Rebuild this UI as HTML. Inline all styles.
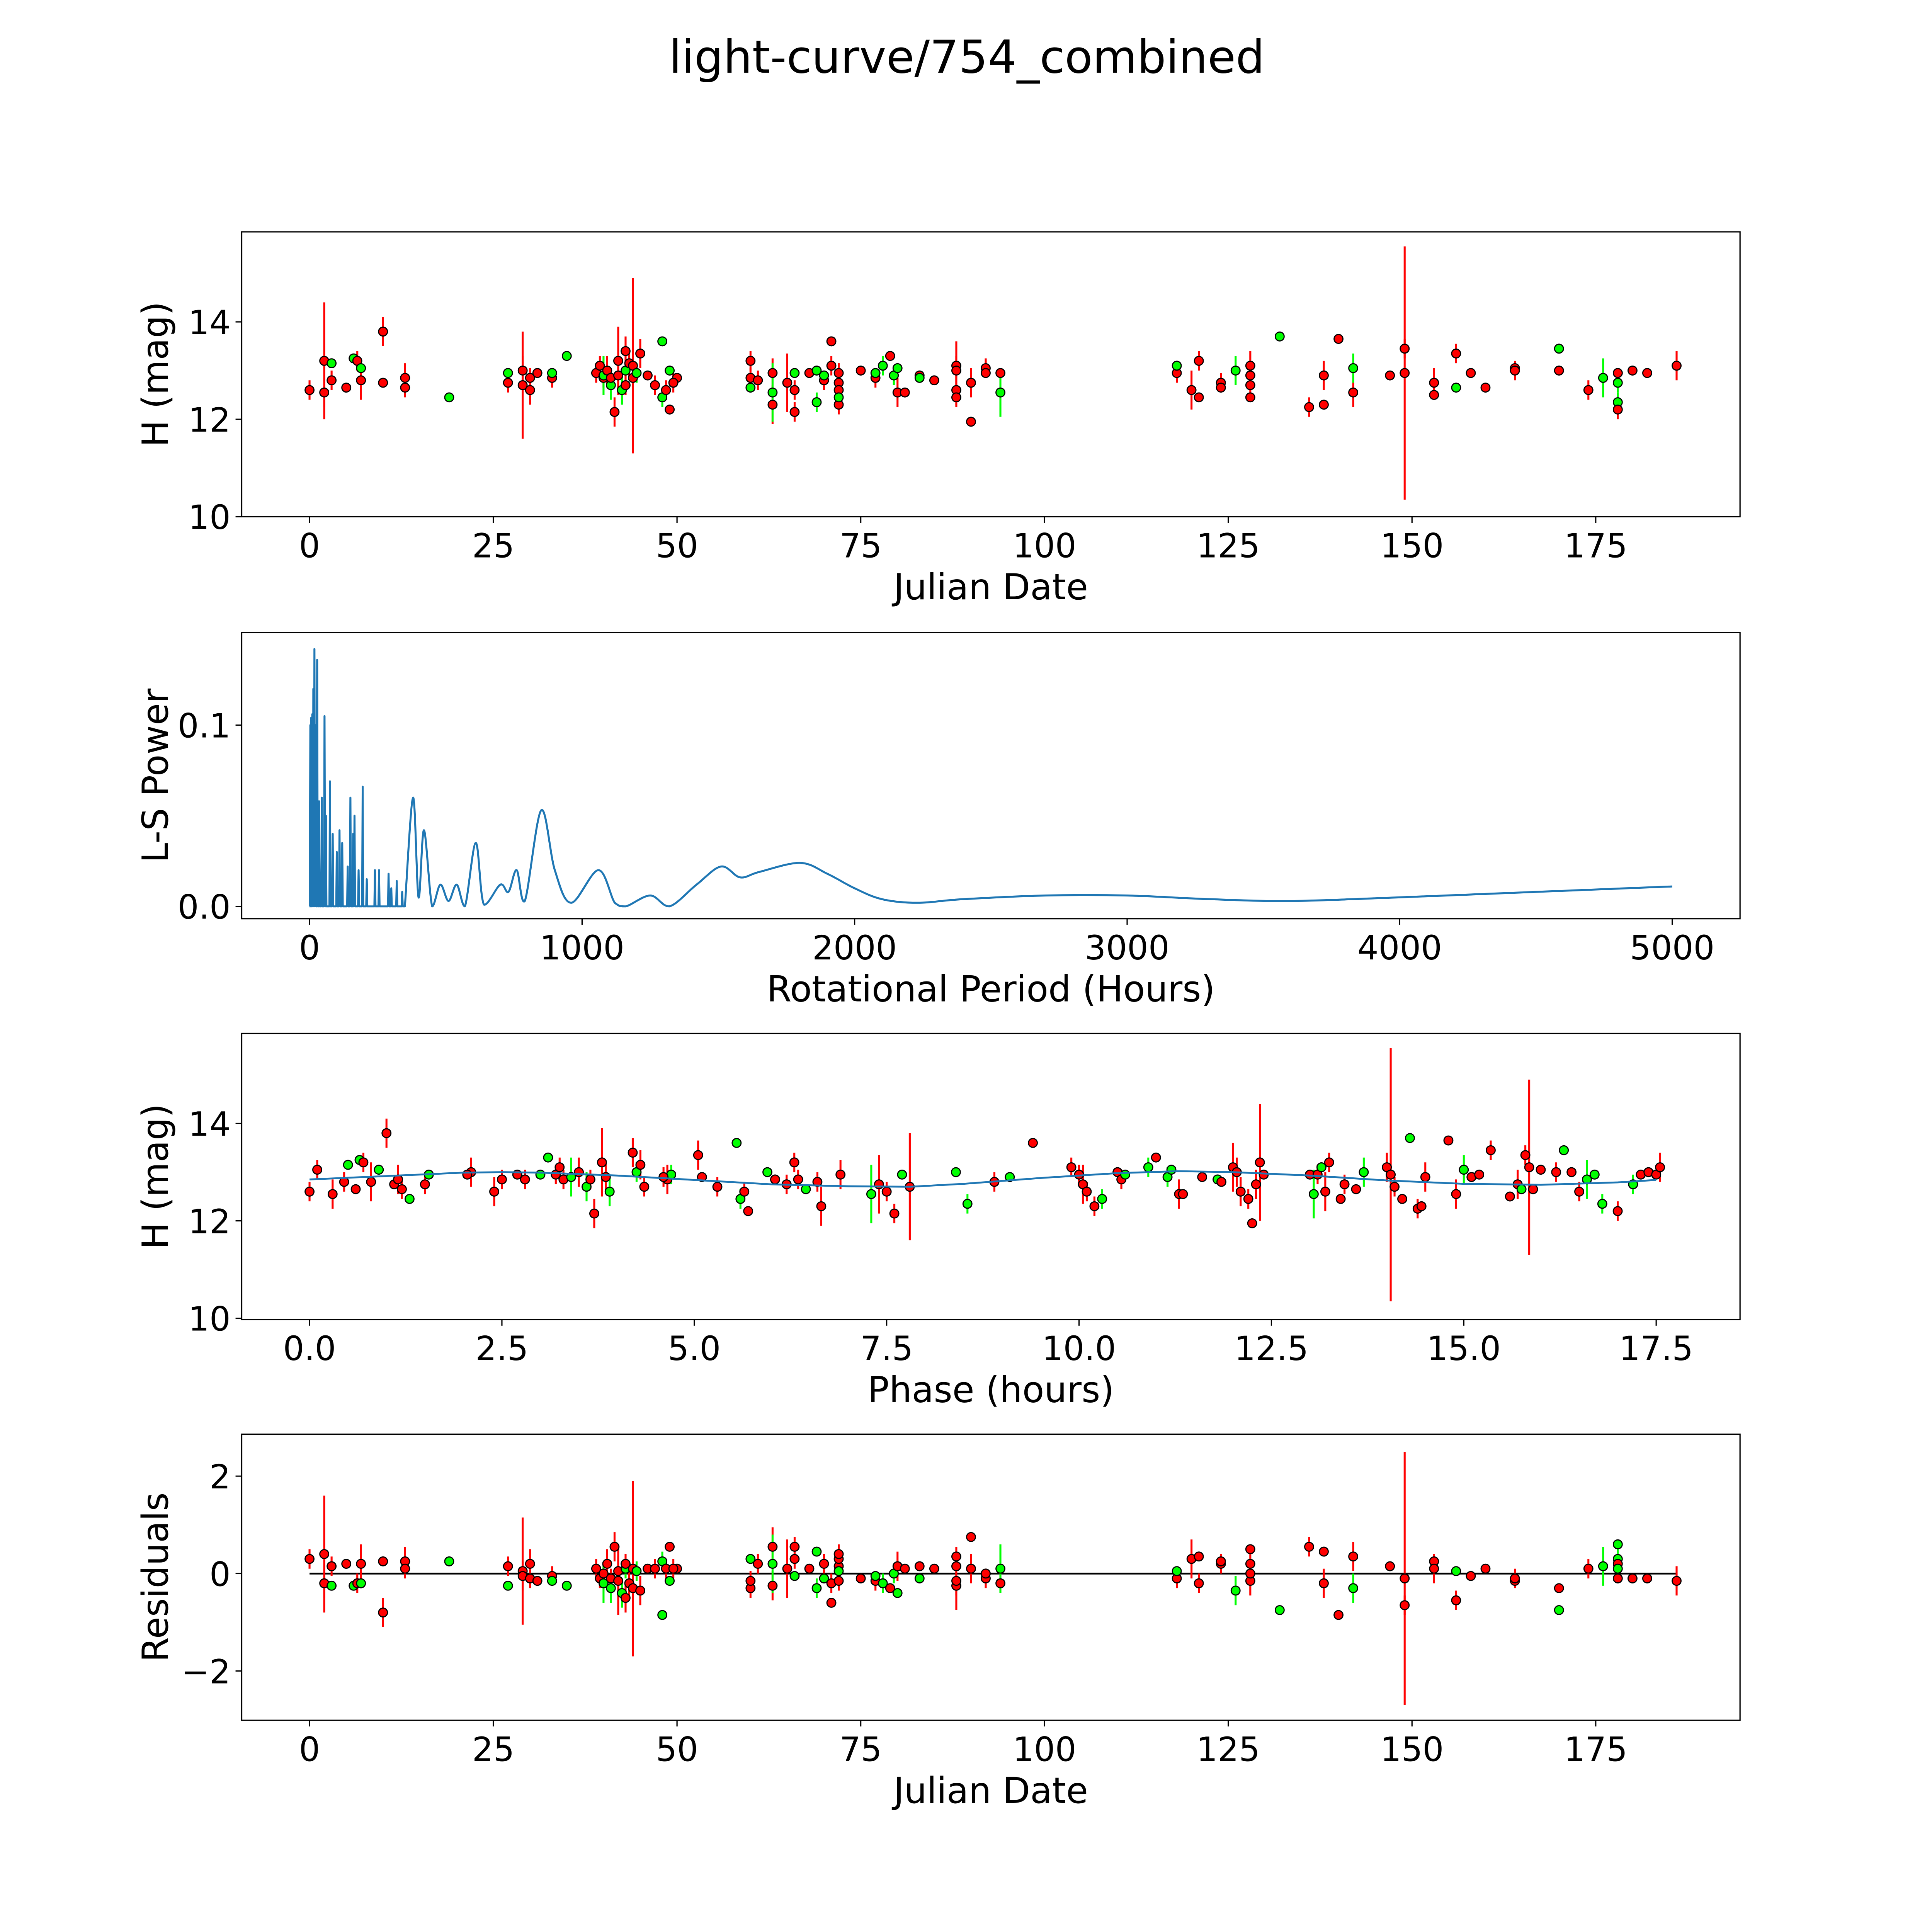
<!DOCTYPE html>
<html><head><meta charset="utf-8"><style>
html,body{margin:0;padding:0;background:#fff;overflow:hidden;width:5400px;height:5400px}
svg{display:block}
text{font-family:"DejaVu Sans","Liberation Sans",sans-serif;fill:#000}
</style></head><body>
<svg id="fig" xmlns="http://www.w3.org/2000/svg" width="5400" height="5400" viewBox="0 0 1692 1692">
<rect width="1692" height="1692" fill="#fff"/>
<text x="784" y="59" font-size="37" text-anchor="middle">light-curve/754_combined</text>
</svg>
<script>
const dates=[0,2,2,3,3,5,6,6.5,7,7,10,10,13,13,19,27,27,29,29,30,30,31,33,33,35,39,39.5,40,40,40.5,41,41,41.5,42,42,42.5,43,43,43.5,43,44,44,44.5,45,46,47,48,48,48.5,49,49,50,49.5,60,60,60,61,63,63,63,65,66,66,66,68,69,69,70,70,71,71,72,72,72,72,72,75,77,77,78,79,79.5,80,80,81,83,83,85,88,88,88,88,90,90,92,92,94,94,118,118,120,121,121,124,124,126,128,128,128,128,132,136,138,138,140,142,142,147,149,149,153,153,156,156,158,160,164,164,170,170,174,176,178,178,178,178,178,180,182,186];
const mags=[12.6,13.2,12.55,12.8,13.15,12.65,13.25,13.2,12.8,13.05,13.8,12.75,12.85,12.65,12.45,12.75,12.95,12.7,13.0,12.6,12.85,12.95,12.85,12.95,13.3,12.95,13.1,12.85,12.9,13.0,12.7,12.85,12.15,13.2,12.9,12.6,13.4,13.0,13.15,12.7,13.1,12.85,12.95,13.35,12.9,12.7,13.6,12.45,12.6,12.2,13.0,12.85,12.75,13.2,12.85,12.65,12.8,12.3,12.95,12.55,12.75,12.6,12.15,12.95,12.95,13.0,12.35,12.8,12.9,13.6,13.1,12.95,12.75,12.6,12.3,12.45,13.0,12.85,12.95,13.1,13.3,12.9,13.05,12.55,12.55,12.9,12.85,12.8,13.1,13.0,12.6,12.45,11.95,12.75,13.05,12.95,12.95,12.55,12.95,13.1,12.6,13.2,12.45,12.75,12.65,13.0,13.1,12.9,12.7,12.45,13.7,12.25,12.3,12.9,13.65,12.55,13.05,12.9,12.95,13.45,12.5,12.75,12.65,13.35,12.95,12.65,13.05,13.0,13.45,13.0,12.6,12.85,12.95,12.35,12.2,12.75,12.95,13.0,12.95,13.1];
const errs=[0.2,1.2,0.3,0.2,0.1,0.1,0.1,0.2,0.4,0.1,0.3,0.1,0.3,0.2,0.05,0.2,0.1,1.1,0.3,0.3,0.2,0.1,0.2,0.1,0.05,0.2,0.2,0.2,0.4,0.3,0.3,0.2,0.3,0.7,0.3,0.3,0.3,0.2,0.3,0.2,1.8,0.3,0.2,0.3,0.1,0.2,0.1,0.2,0.2,0.1,0.1,0.1,0.2,0.2,0.2,0.1,0.2,0.4,0.3,0.6,0.6,0.2,0.2,0.1,0.1,0.1,0.2,0.2,0.1,0.1,0.2,0.2,0.4,0.2,0.2,0.2,0.1,0.2,0.1,0.2,0.1,0.2,0.1,0.3,0.1,0.1,0.1,0.1,0.5,0.3,0.3,0.2,0.1,0.3,0.2,0.1,0.1,0.5,0.2,0.1,0.4,0.2,0.1,0.2,0.1,0.3,0.3,0.2,0.2,0.1,0.05,0.2,0.1,0.3,0.1,0.3,0.3,0.1,2.6,0.2,0.1,0.3,0.1,0.2,0.1,0.1,0.1,0.2,0.1,0.1,0.2,0.4,0.1,0.2,0.2,0.2,0.1,0.1,0.1,0.3];
const colors="rrrrgrgrrgrrrrgrgrrrrrrggrrrgrgrrrrgrgrrrrgrrrggrrgrrrrgrrrgrrrgrggrgrrrrrrgrrggrggrrrgrrrrrrrrrrgrgrrrrrgrrrrgrrrrrgrrrrrgrrrrrgrrgggrgrrrrr";
const resid=[0.3,0.4,-0.2,0.15,-0.25,0.2,-0.25,-0.2,0.2,-0.2,-0.8,0.25,0.25,0.1,0.25,0.15,-0.25,0.05,-0.05,0.2,-0.1,-0.15,-0.05,-0.15,-0.25,0.1,-0.1,0,-0.2,0.2,-0.3,-0.1,0.55,-0.15,0.05,-0.4,-0.5,0.1,-0.2,0.2,0.1,-0.3,0.05,-0.35,0.1,0.1,-0.85,0.25,0.1,0.55,-0.15,0.1,0.1,-0.3,-0.15,0.3,0.2,0.55,-0.25,0.2,0.1,0.3,0.55,-0.05,0.1,0.45,-0.3,0.2,-0.1,-0.6,-0.2,-0.15,0.15,0.3,0.4,0.05,-0.1,-0.15,-0.05,-0.2,-0.3,0,-0.4,0.15,0.1,0.15,-0.1,0.1,-0.25,-0.15,0.15,0.35,0.75,0.1,-0.1,0,-0.2,0.1,-0.1,0.05,0.3,-0.2,0.35,0.2,0.25,-0.35,-0.15,0,0.2,0.5,-0.75,0.55,0.45,-0.2,-0.85,0.35,-0.3,0.15,-0.1,-0.65,0.25,0.1,0.05,-0.55,-0.05,0.1,-0.15,-0.1,-0.75,-0.3,0.1,0.15,0.6,0.3,0.2,0.1,-0.1,-0.1,-0.1,-0.15];
const phases=[0.0,12.35,0.3,0.45,0.5,0.6,0.65,0.7,0.8,0.9,1.0,1.1,1.15,1.2,1.3,1.5,1.55,7.8,2.1,2.4,2.5,2.7,2.8,3.0,3.1,3.2,3.25,3.3,3.4,3.5,3.6,3.65,3.7,3.8,3.85,3.9,4.2,4.25,4.3,4.35,15.85,4.65,4.7,5.05,5.1,5.3,5.55,5.6,5.65,5.7,5.95,6.05,6.2,6.3,6.35,6.45,6.6,6.65,6.9,7.3,7.4,7.5,7.6,7.7,2.05,8.4,8.55,8.9,9.1,9.4,9.9,10.0,10.05,10.1,10.2,10.3,10.5,10.55,10.6,10.9,11.0,11.15,11.2,11.3,11.35,11.6,11.8,11.85,12.0,12.05,12.1,12.2,12.25,12.3,0.1,12.4,13.0,13.05,13.1,13.15,13.2,13.25,13.4,13.45,13.6,13.7,14.0,4.6,14.1,14.2,14.3,14.4,14.45,14.5,14.8,14.9,15.0,15.1,14.05,15.35,15.6,15.7,15.75,15.8,15.2,15.9,16.0,16.2,16.3,16.4,16.5,16.6,16.7,16.8,17.0,17.2,17.3,17.4,17.5,17.55];
const modelPhase=[0,1,2,2.5,3,4,5,6,7,7.8,8.5,9.5,10.5,11.3,12,13,14,15,16,17,17.5];
const modelMag=[12.85,12.92,12.99,13.0,12.99,12.93,12.84,12.75,12.71,12.7,12.76,12.88,12.98,13.02,13.0,12.93,12.83,12.76,12.74,12.79,12.84];
const spikePeriods=[3,6,10,14,18,22,28,35,45,55,60,75,85,100,110,120,140,150,160,165,180,195,210,240,255,290,300,320,340];
const spikePowers=[0.1,0.104,0.106,0.12,0.142,0.1,0.136,0.058,0.06,0.105,0.05,0.069,0.04,0.03,0.042,0.035,0.022,0.06,0.04,0.05,0.02,0.066,0.015,0.02,0.02,0.018,0.01,0.014,0.008];
const smoothPeriods=[350,380,400,420,450,480,510,540,570,610,640,700,730,760,790,850,900,960,1060,1120,1160,1250,1320,1420,1510,1580,1650,1800,1900,2000,2100,2230,2400,2700,3000,3300,3600,4000,4500,5000];
const smoothPowers=[0.0,0.06,0.005,0.042,0.0,0.012,0.003,0.012,0.0,0.035,0.001,0.012,0.008,0.02,0.003,0.053,0.02,0.002,0.02,0.002,0.0,0.006,0.0,0.012,0.022,0.016,0.019,0.024,0.018,0.01,0.004,0.002,0.004,0.006,0.006,0.004,0.003,0.005,0.008,0.011];
const xTicks1=[0,25,50,75,100,125,150,175];
const yTicks1=[10,12,14];
const xTicks2=[0,1000,2000,3000,4000,5000];
const yTicks2=[0.0,0.1];
const xTicks3=[0,2.5,5,7.5,10,12.5,15,17.5];
const yTicks4=[-2,0,2];

const NS="http://www.w3.org/2000/svg";
const fig=document.getElementById('fig');
function el(tag,attrs,parent){const e=document.createElementNS(NS,tag);for(const k in attrs)e.setAttribute(k,attrs[k]);(parent||fig).appendChild(e);return e;}
function lin(d0,d1,r0,r1){return v=>r0+(v-d0)*(r1-r0)/(d1-d0);}
const L=196,R=1411;
function panel(name,top,bot,xs,ys,xt,yt,xfmt,yfmt,xlabel,ylabel){
  const g=el('g',{});
  
  
  const fr=el('rect',{x:L,y:top,width:R-L,height:bot-top,fill:'none',stroke:'#000','stroke-width':1},g);
  
  
  xt.forEach(v=>{const x=xs(v);el('line',{x1:x,x2:x,y1:bot,y2:bot+5,stroke:'#000','stroke-width':1},g);
    const t=el('text',{x:x,y:bot+33,'font-size':27,'text-anchor':'middle'},g);t.textContent=xfmt(v);
    
    });
  yt.forEach(v=>{const y=ys(v);el('line',{x1:L-5,x2:L,y1:y,y2:y,stroke:'#000','stroke-width':1},g);
    const t=el('text',{x:L-9,y:y+10,'font-size':27,'text-anchor':'end'},g);t.textContent=yfmt(v);
    
    });
  const xl=el('text',{x:(L+R)/2,y:bot+67,'font-size':29,'text-anchor':'middle'},g);xl.textContent=xlabel;
  
  
  const cy=(top+bot)/2;
  const yl=el('text',{x:0,y:0,'font-size':29,'text-anchor':'middle',transform:`translate(136,${cy}) rotate(-90)`},g);yl.textContent=ylabel;
  
  
  return g;
}
function points(g,xsArr,ysArr,errArr,xs,ys,nm){
  const n=Math.min(xsArr.length,ysArr.length);
  for(let i=0;i<n;i++){
    const c=colors[i]==='g'?'#00ff00':'#ff0000';
    const x=xs(xsArr[i]),e=errArr[i]||0;
    const ln=el('line',{x1:x,x2:x,y1:ys(ysArr[i]-e),y2:ys(ysArr[i]+e),stroke:c,'stroke-width':1.6},g);
    
    
  }
  for(let i=0;i<n;i++){
    const c=colors[i]==='g'?'#00ff00':'#ff0000';
    const ci=el('circle',{cx:xs(xsArr[i]),cy:ys(ysArr[i]),r:3.6,fill:c,stroke:'#000','stroke-width':0.9},g);
    
    
  }
}
const intf=v=>String(v);
{const xs=lin(0,175,251,1294),ys=lin(10,14,419,261);
 const g=panel('lightcurve-panel',188,419,xs,ys,xTicks1,yTicks1,intf,intf,'Julian Date','H (mag)');
 points(g,dates,mags,errs,xs,ys,'observation');}
{const xs=lin(0,5000,251,1356),ys=lin(0,0.1,735,588);
 const g=panel('periodogram-panel',513,745,xs,ys,xTicks2,yTicks2,intf,v=>v.toFixed(1),'Rotational Period (Hours)','L-S Power');
 let pts=[[0,0]];
 for(let i=0;i<spikePeriods.length;i++){pts.push([spikePeriods[i]-2,0]);pts.push([spikePeriods[i],spikePowers[i]]);pts.push([spikePeriods[i]+2,0]);}
 let d='M'+pts.map(p=>xs(p[0]).toFixed(2)+','+ys(p[1]).toFixed(2)).join(' L');
 const sp=smoothPeriods.map(v=>xs(v)),sw=smoothPowers.map(v=>ys(v));
 d+=' L'+sp[0].toFixed(2)+','+sw[0].toFixed(2);
 for(let i=0;i<sp.length-1;i++){
   const x0=sp[Math.max(i-1,0)],y0=sw[Math.max(i-1,0)],x1=sp[i],y1=sw[i],x2=sp[i+1],y2=sw[i+1],x3=sp[Math.min(i+2,sp.length-1)],y3=sw[Math.min(i+2,sp.length-1)];
   const c1x=x1+(x2-x0)/6,c1y=Math.min(ys(0),y1+(y2-y0)/6),c2x=x2-(x3-x1)/6,c2y=Math.min(ys(0),y2-(y3-y1)/6);
   d+=` C${c1x.toFixed(2)},${c1y.toFixed(2)} ${c2x.toFixed(2)},${c2y.toFixed(2)} ${x2.toFixed(2)},${y2.toFixed(2)}`;
 }
 const p=el('path',{d:d,fill:'none',stroke:'#1f77b4','stroke-width':1.6,'stroke-linejoin':'round'},g);
 
 }
{const xs=lin(0,17.5,251,1343),ys=lin(10,14,1069,911);
 const g=panel('phase-panel',838,1070,xs,ys,xTicks3,yTicks1,v=>v.toFixed(1),intf,'Phase (hours)','H (mag)');
 const n=Math.min(phases.length,mags.length);
 points(g,phases.slice(0,n),mags.slice(0,n),errs,xs,ys,'phased-observation');
 const d='M'+modelPhase.map((v,i)=>xs(v).toFixed(2)+','+ys(modelMag[i]).toFixed(2)).join(' L');
 const p=el('path',{d:d,fill:'none',stroke:'#1f77b4','stroke-width':1.5},g);
 
 }
{const xs=lin(0,175,251,1294),ys=lin(-2,2,1355,1197);
 const g=panel('residuals-panel',1163,1395,xs,ys,xTicks1,yTicks4,intf,v=>v<0?'\u2212'+(-v):String(v),'Julian Date','Residuals');
 const zl=el('line',{x1:xs(0),x2:xs(186),y1:ys(0),y2:ys(0),stroke:'#000','stroke-width':1.5},g);
 
 
 points(g,dates,resid,errs,xs,ys,'residual');}
</script>
</body></html>
